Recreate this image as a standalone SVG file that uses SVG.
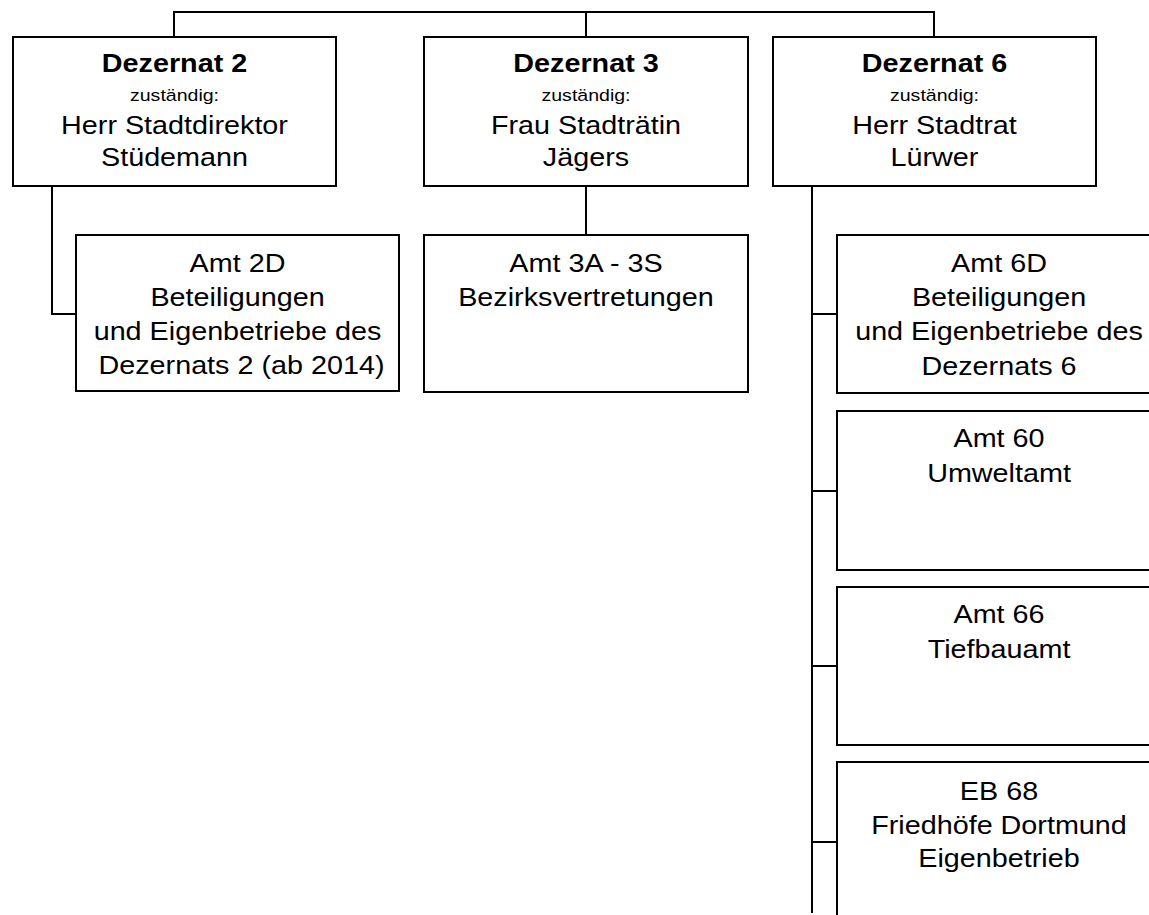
<svg xmlns="http://www.w3.org/2000/svg" width="1149" height="915" viewBox="0 0 1149 915">
<style>
.box{fill:#fff;stroke:#000;stroke-width:2}
.ln{fill:none;stroke:#000;stroke-width:2}
text{font-family:"Liberation Sans",Arial,sans-serif;font-size:25px;fill:#000;text-anchor:middle}
.b{font-weight:bold}
.s{font-size:17px}
</style>
<rect width="1149" height="915" fill="#fff"/>
<g id="connectors">
<path class="ln" d="M174,37 V12 H934 V37 M586,12 V37"/>
<path class="ln" d="M52,186 V314 H76"/>
<path class="ln" d="M586,186 V235"/>
<path class="ln" d="M812,186 V913 M812,314 H837 M812,491 H837 M812,666 H837 M812,842 H837"/>
</g>
<g id="dez2">
<rect class="box" x="13" y="37" width="323" height="149"/>
<text transform="translate(174.5,0) scale(1.15,1)"><tspan class="b" x="0" y="72">Dezernat 2</tspan><tspan class="s" x="0" y="101">zuständig:</tspan><tspan x="0" y="134">Herr Stadtdirektor</tspan><tspan x="0" y="166">Stüdemann</tspan></text>
</g>
<g id="dez3">
<rect class="box" x="424" y="37" width="324" height="149"/>
<text transform="translate(586,0) scale(1.15,1)"><tspan class="b" x="0" y="72">Dezernat 3</tspan><tspan class="s" x="0" y="101">zuständig:</tspan><tspan x="0" y="134">Frau Stadträtin</tspan><tspan x="0" y="166">Jägers</tspan></text>
</g>
<g id="dez6">
<rect class="box" x="773" y="37" width="323" height="149"/>
<text transform="translate(934.5,0) scale(1.15,1)"><tspan class="b" x="0" y="72">Dezernat 6</tspan><tspan class="s" x="0" y="101">zuständig:</tspan><tspan x="0" y="134">Herr Stadtrat</tspan><tspan x="0" y="166">Lürwer</tspan></text>
</g>
<g id="amt2d">
<rect class="box" x="76" y="235" width="323" height="156"/>
<text transform="translate(237.5,0) scale(1.15,1)"><tspan x="0" y="272">Amt 2D</tspan><tspan x="0" y="306">Beteiligungen</tspan><tspan x="0" y="340">und Eigenbetriebe des</tspan><tspan x="0" y="374"> Dezernats 2 (ab 2014)</tspan></text>
</g>
<g id="amt3a">
<rect class="box" x="424" y="235" width="324" height="157"/>
<text transform="translate(586,0) scale(1.15,1)"><tspan x="0" y="272">Amt 3A - 3S</tspan><tspan x="0" y="306">Bezirksvertretungen</tspan></text>
</g>
<g id="amt6d">
<rect class="box" x="837" y="235" width="324" height="158"/>
<text transform="translate(999,0) scale(1.15,1)"><tspan x="0" y="272">Amt 6D</tspan><tspan x="0" y="306">Beteiligungen</tspan><tspan x="0" y="340">und Eigenbetriebe des</tspan><tspan x="0" y="375">Dezernats 6</tspan></text>
</g>
<g id="amt60">
<rect class="box" x="837" y="411" width="324" height="159"/>
<text transform="translate(999,0) scale(1.15,1)"><tspan x="0" y="447">Amt 60</tspan><tspan x="0" y="482">Umweltamt</tspan></text>
</g>
<g id="amt66">
<rect class="box" x="837" y="587" width="324" height="158"/>
<text transform="translate(999,0) scale(1.15,1)"><tspan x="0" y="623">Amt 66</tspan><tspan x="0" y="658">Tiefbauamt</tspan></text>
</g>
<g id="eb68">
<rect class="box" x="837" y="762" width="324" height="170"/>
<text transform="translate(999,0) scale(1.15,1)"><tspan x="0" y="800">EB 68</tspan><tspan x="0" y="834">Friedhöfe Dortmund</tspan><tspan x="0" y="867">Eigenbetrieb</tspan></text>
</g>
</svg>
